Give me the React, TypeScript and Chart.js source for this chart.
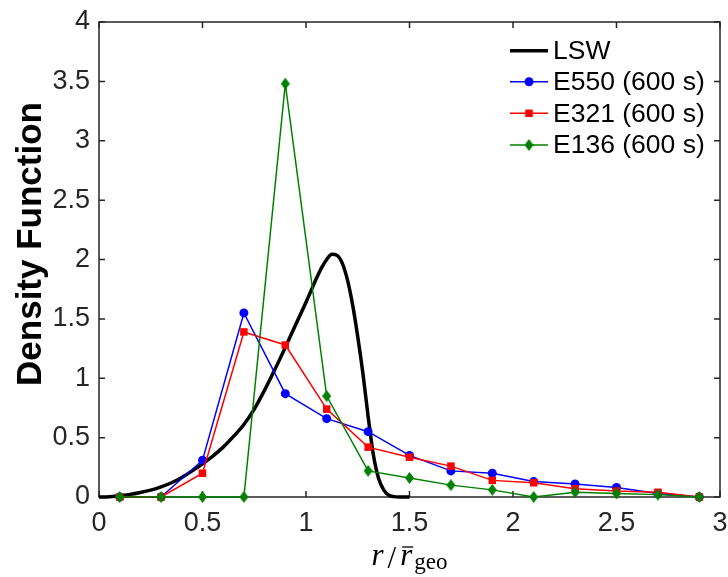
import React, { useEffect, useRef } from "react";
import { Chart, registerables } from "chart.js";

Chart.register(...registerables);

// ---- data ----
const binCenters = [0.1, 0.3, 0.5, 0.7, 0.9, 1.1, 1.3, 1.5, 1.7, 1.9, 2.1, 2.3, 2.5, 2.7, 2.9];
const e550 = [0, 0, 0.31, 1.55, 0.87, 0.66, 0.55, 0.35, 0.22, 0.2, 0.13, 0.11, 0.08, 0.03, 0];
const e321 = [0, 0, 0.2, 1.39, 1.28, 0.74, 0.42, 0.335, 0.26, 0.14, 0.12, 0.07, 0.05, 0.04, 0];
const e136 = [0, 0, 0, 0, 3.48, 0.85, 0.22, 0.16, 0.1, 0.06, 0, 0.04, 0.03, 0.02, 0];

const lswX = [0, 0.05, 0.1, 0.15, 0.2, 0.25, 0.3, 0.35, 0.4, 0.45, 0.5, 0.55, 0.6, 0.65, 0.7, 0.75, 0.8, 0.85, 0.9, 0.95, 1.0, 1.025, 1.05, 1.075, 1.1, 1.125, 1.15, 1.175, 1.2, 1.225, 1.25, 1.275, 1.3, 1.325, 1.35, 1.375, 1.4, 1.425, 1.45, 1.5];
const lswY = [0, 0.003, 0.012, 0.022, 0.038, 0.058, 0.085, 0.12, 0.165, 0.22, 0.28, 0.345, 0.42, 0.51, 0.61, 0.74, 0.9, 1.075, 1.26, 1.45, 1.64, 1.74, 1.84, 1.93, 2.0, 2.045, 2.035, 1.97, 1.83, 1.62, 1.35, 1.04, 0.68, 0.36, 0.16, 0.06, 0.015, 0.003, 0, 0];

const xTicks = [0, 0.5, 1, 1.5, 2, 2.5, 3];
const yTicks = [0, 0.5, 1, 1.5, 2, 2.5, 3, 3.5, 4];
const seriesLabels = ["LSW", "E550 (600 s)", "E321 (600 s)", "E136 (600 s)"];
const yTitle = "Density Function";

const BLUE = "#0000ff";
const RED = "#ff0000";
const GREEN = "#008000";
const AXIS = "#262626";

function makeDiamond(w: number, h: number, color: string) {
  const c = document.createElement("canvas");
  c.width = w;
  c.height = h;
  const g = c.getContext("2d")!;
  g.fillStyle = color;
  g.beginPath();
  g.moveTo(w / 2, 0);
  g.lineTo(w, h / 2);
  g.lineTo(w / 2, h);
  g.lineTo(0, h / 2);
  g.closePath();
  g.fill();
  return c;
}

export default function App() {
  const ref = useRef<HTMLCanvasElement>(null);

  useEffect(() => {
    document.body.style.margin = "0";
    const canvas = ref.current!;
    const diamond = makeDiamond(9, 12, GREEN);

    const boxPlugin = {
      id: "boxPlugin",
      beforeDatasetsDraw(chart: any) {
        const { ctx, chartArea: a, scales } = chart;
        ctx.save();
        ctx.strokeStyle = AXIS;
        ctx.lineWidth = 1.5;
        ctx.strokeRect(a.left, a.top, a.right - a.left, a.bottom - a.top);
        const tl = 6;
        ctx.beginPath();
        for (const v of xTicks) {
          const px = scales.x.getPixelForValue(v);
          ctx.moveTo(px, a.bottom);
          ctx.lineTo(px, a.bottom - tl);
          ctx.moveTo(px, a.top);
          ctx.lineTo(px, a.top + tl);
        }
        for (const v of yTicks) {
          const py = scales.y.getPixelForValue(v);
          ctx.moveTo(a.left, py);
          ctx.lineTo(a.left + tl, py);
          ctx.moveTo(a.right, py);
          ctx.lineTo(a.right - tl, py);
        }
        ctx.stroke();
        ctx.restore();
      },
      afterDraw(chart: any) {
        const { ctx, chartArea: a } = chart;
        ctx.save();
        // legend
        const rows = [50.7, 81.7, 113.3, 145];
        const lx0 = 510, lx1 = 548, tx = 553;
        const styles = [
          { c: "#000", w: 3.5, m: "none" },
          { c: BLUE, w: 1.5, m: "circle" },
          { c: RED, w: 1.5, m: "square" },
          { c: GREEN, w: 1.5, m: "diamond" },
        ];
        ctx.font = "26.5px 'Liberation Sans', Arial, sans-serif";
        ctx.textBaseline = "middle";
        ctx.textAlign = "left";
        rows.forEach((ry, i) => {
          const s = styles[i];
          ctx.strokeStyle = s.c;
          ctx.lineWidth = s.w;
          ctx.beginPath();
          ctx.moveTo(lx0, ry);
          ctx.lineTo(lx1, ry);
          ctx.stroke();
          const cx = (lx0 + lx1) / 2;
          ctx.fillStyle = s.c;
          if (s.m === "circle") {
            ctx.beginPath();
            ctx.arc(cx, ry, 4.5, 0, Math.PI * 2);
            ctx.fill();
          } else if (s.m === "square") {
            ctx.fillRect(cx - 3.75, ry - 3.75, 7.5, 7.5);
          } else if (s.m === "diamond") {
            ctx.drawImage(diamond, cx - 4.5, ry - 6);
          }
          ctx.fillStyle = "#000";
          ctx.fillText(seriesLabels[i], tx, ry + 1);
        });

        // y title
        ctx.save();
        ctx.translate(31, 244);
        ctx.rotate(-Math.PI / 2);
        ctx.font = "bold 35px 'Liberation Sans', Arial, sans-serif";
        ctx.fillStyle = "#000";
        ctx.textAlign = "center";
        ctx.textBaseline = "middle";
        ctx.fillText(yTitle, 0, 0);
        ctx.restore();

        // x title: r / r̄_geo
        const serifIt = "italic 31px 'Liberation Serif', 'DejaVu Serif', serif";
        const serif = "31px 'Liberation Serif', 'DejaVu Serif', serif";
        const serifSub = "23px 'Liberation Serif', 'DejaVu Serif', serif";
        ctx.fillStyle = "#000";
        ctx.textAlign = "left";
        ctx.textBaseline = "alphabetic";
        ctx.font = serifIt;
        const wr = ctx.measureText("r").width;
        ctx.font = serif;
        const ws = ctx.measureText("/").width;
        ctx.font = serifSub;
        const wg = ctx.measureText("geo").width;
        const gap = 4;
        const total = wr + gap + ws + gap + wr + 2 + wg;
        let x = (a.left + a.right) / 2 - total / 2;
        const base = 565;
        ctx.font = serifIt;
        ctx.fillText("r", x, base);
        x += wr + gap;
        ctx.font = serif;
        ctx.fillText("/", x, base + 3);
        x += ws + gap;
        ctx.font = serifIt;
        ctx.fillText("r", x, base);
        ctx.strokeStyle = "#000";
        ctx.lineWidth = 1.3;
        ctx.beginPath();
        ctx.moveTo(x + 2, 547);
        ctx.lineTo(x + wr + 1, 547);
        ctx.stroke();
        x += wr + 2;
        ctx.font = serifSub;
        ctx.fillText("geo", x, base + 4);
        ctx.restore();
      },
    };

    const xy = (xs: number[], ys: number[]) => xs.map((v, i) => ({ x: v, y: ys[i] }));
    const tickFont = { family: "'Liberation Sans', Arial, sans-serif", size: 27 };

    const chart = new Chart(canvas, {
      type: "line",
      data: {
        datasets: [
          {
            label: seriesLabels[0],
            data: xy(lswX, lswY),
            borderColor: "#000",
            borderWidth: 3.5,
            pointRadius: 0,
            cubicInterpolationMode: "monotone",
            clip: false,
            order: 4,
          } as any,
          {
            label: seriesLabels[1],
            data: xy(binCenters, e550),
            borderColor: BLUE,
            backgroundColor: BLUE,
            borderWidth: 1.5,
            pointStyle: "circle",
            pointRadius: 4.5,
            pointBorderWidth: 0,
            clip: false,
            order: 3,
          },
          {
            label: seriesLabels[2],
            data: xy(binCenters, e321),
            borderColor: RED,
            backgroundColor: RED,
            borderWidth: 1.5,
            pointStyle: "rect",
            pointRadius: 5.3,
            pointBorderWidth: 0,
            clip: false,
            order: 2,
          },
          {
            label: seriesLabels[3],
            data: xy(binCenters, e136),
            borderColor: GREEN,
            backgroundColor: GREEN,
            borderWidth: 1.5,
            pointStyle: diamond,
            pointRadius: 5,
            clip: false,
            order: 1,
          },
        ],
      },
      options: {
        responsive: false,
        animation: false,
        devicePixelRatio: 1,
        layout: { padding: { top: 22, right: 8, left: 0, bottom: 0 } },
        plugins: { legend: { display: false }, tooltip: { enabled: false } },
        scales: {
          x: {
            type: "linear",
            min: 0,
            max: 3,
            afterBuildTicks: (s: any) => {
              s.ticks = xTicks.map((v) => ({ value: v }));
            },
            afterFit: (s: any) => {
              s.height = 80;
              s.paddingLeft = 0;
              s.paddingRight = 0;
            },
            ticks: {
              font: tickFont,
              color: AXIS,
              padding: 10,
              maxRotation: 0,
              autoSkip: false,
              callback: (v: any) => String(v),
            },
            grid: { display: false, drawTicks: false },
            border: { display: false },
          },
          y: {
            type: "linear",
            min: 0,
            max: 4,
            afterBuildTicks: (s: any) => {
              s.ticks = yTicks.map((v) => ({ value: v }));
            },
            afterFit: (s: any) => {
              s.width = 99;
              s.paddingTop = 0;
              s.paddingBottom = 0;
            },
            ticks: {
              font: tickFont,
              color: AXIS,
              padding: 9,
              autoSkip: false,
              callback: (v: any) => String(v),
            },
            grid: { display: false, drawTicks: false },
            border: { display: false },
          },
        },
      },
      plugins: [boxPlugin],
    } as any);

    return () => chart.destroy();
  }, []);

  return (
    <div style={{ width: 728, height: 577 }}>
      <canvas ref={ref} width={728} height={577} />
    </div>
  );
}
